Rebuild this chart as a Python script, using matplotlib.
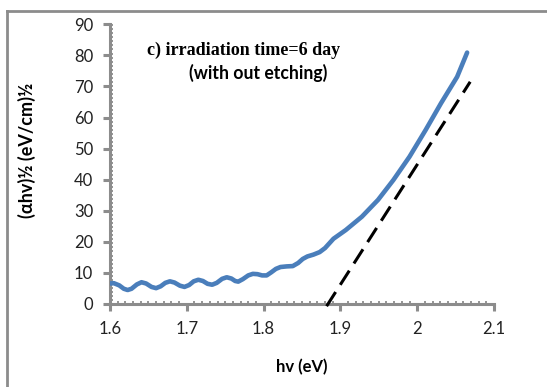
import matplotlib.pyplot as plt
from matplotlib.lines import Line2D
from matplotlib.ticker import MultipleLocator

# curve
hv = [1.600, 1.605, 1.612, 1.618, 1.623, 1.628, 1.635, 1.641, 1.647, 1.654,
      1.660, 1.666, 1.672, 1.678, 1.684, 1.691, 1.697, 1.703, 1.709, 1.715,
      1.721, 1.727, 1.733, 1.739, 1.746, 1.752, 1.758, 1.763, 1.767, 1.773,
      1.780, 1.786, 1.792, 1.798, 1.804, 1.810, 1.816, 1.822, 1.830, 1.838,
      1.845, 1.851, 1.857, 1.865, 1.873, 1.880, 1.891, 1.907, 1.928, 1.949,
      1.969, 1.990, 2.011, 2.031, 2.052, 2.065]
ahv = [6.6, 6.7, 6.0, 4.9, 4.5, 4.9, 6.3, 7.0, 6.6, 5.5,
       5.1, 5.7, 6.8, 7.3, 6.9, 5.9, 5.5, 6.1, 7.3, 7.8,
       7.4, 6.5, 6.2, 6.8, 8.1, 8.6, 8.2, 7.4, 7.2, 8.0,
       9.2, 9.7, 9.6, 9.2, 9.2, 10.2, 11.3, 11.9, 12.1, 12.2,
       13.2, 14.5, 15.3, 15.9, 16.7, 18.0, 21.0, 23.8, 28.1, 33.5,
       39.9, 47.4, 56.0, 64.6, 73.1, 80.9]

# extrapolated tangent line
fit_x = [1.882, 2.069]
fit_y = [-0.7, 71.5]

xticks = [1.6, 1.7, 1.8, 1.9, 2.0, 2.1]
xticklabels = ['1.6', '1.7', '1.8', '1.9', '2', '2.1']
yticks = [0, 10, 20, 30, 40, 50, 60, 70, 80, 90]

grey = '#8c8c8c'
plt.rcParams['font.family'] = ['Lato', 'DejaVu Sans']

W, H = 547, 387
L, R, B, T = 110, 494, 304, 24.3

fig = plt.figure(figsize=(5.47, 3.87), dpi=100)
ax = fig.add_axes([L/W, 1 - B/H, (R - L)/W, (B - T)/H])

ax.plot(hv, ahv, color='#4a7ebb', lw=3.3, solid_capstyle='round',
        solid_joinstyle='round', zorder=3)
ax.plot(fit_x, fit_y, color='black', lw=2.2, dashes=(5.5, 2.8), clip_on=False, zorder=4)

ax.set_xlim(1.6, 2.1)
ax.set_ylim(0, 90)
ax.set_xticks(xticks)
ax.set_xticklabels(xticklabels)
ax.set_yticks(yticks)
ax.xaxis.set_minor_locator(MultipleLocator(0.01))
ax.yaxis.set_minor_locator(MultipleLocator(1.3))

for s in ['top', 'right']:
    ax.spines[s].set_visible(False)
for s in ['left', 'bottom']:
    ax.spines[s].set_color(grey)
    ax.spines[s].set_linewidth(2.2)

ax.tick_params(which='major', direction='out', length=5, width=2.2, color=grey,
               labelsize=12, labelcolor='#222222')
ax.tick_params(axis='x', which='major', pad=7)
ax.tick_params(axis='y', which='major', pad=7)
ax.tick_params(which='minor', direction='in', length=2.5, width=1.3, color=grey)

ax.set_xlabel('hv (eV)', fontsize=12, fontweight='bold')
ax.xaxis.set_label_coords((302 - L) / (R - L), -(359 - B) / (B - T))
ax.set_ylabel('(αhv)½ (eV/cm)½', fontsize=13, fontweight='bold', va='center')
ax.yaxis.set_label_coords(-(L - 27) / (R - L), (B - 150) / (B - T))

fig.text(147/W, 1 - 50/H, 'c) irradiation time=6 day', family='Liberation Serif',
         fontweight='bold', fontsize=13, va='center', ha='left')
fig.text(189/W, 1 - 73/H, '(with out etching)', fontweight='bold', fontsize=12.7,
         va='center', ha='left')

# outer frame (cut off on the right and bottom)
fig.add_artist(Line2D([7/W, 7/W], [1 - 11/H, -0.05], color=grey, lw=2,
                      transform=fig.transFigure))
fig.add_artist(Line2D([7/W, 1.05], [1 - 11/H, 1 - 11/H], color=grey, lw=2,
                      transform=fig.transFigure))

fig.savefig('out.png', dpi=100)
